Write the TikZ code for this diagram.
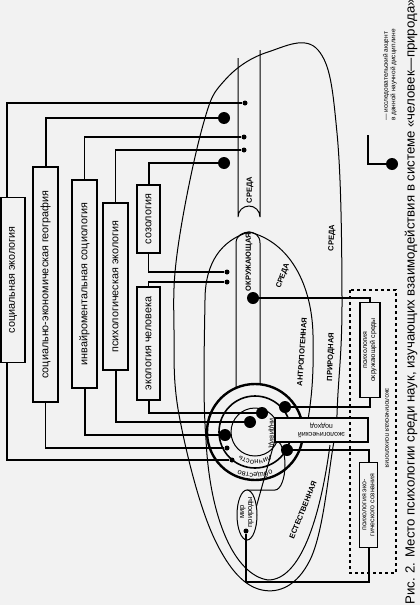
\documentclass[tikz,border=0pt]{standalone}
\usepackage{fontspec}
\setmainfont{Liberation Sans}
\usetikzlibrary{calc,decorations.text}
\begin{document}
\begin{tikzpicture}[x=1pt,y=-1pt,
  box/.style={draw,line width=1.1pt,rotate=90,inner sep=1pt,fill=gray!10,font=\fontsize{10.8}{11}\selectfont},
  thin/.style={line width=1pt},
  thick/.style={line width=2pt},
  mid/.style={line width=1.4pt},
  sdot/.style={circle,fill=black,inner sep=0pt,minimum size=5pt},
  bdot/.style={circle,fill=black,inner sep=0pt,minimum size=12pt},
  lbl/.style={font=\fontsize{7.5}{8}\selectfont\bfseries,inner sep=0pt}]
\useasboundingbox (0,0) rectangle (420,605);
\fill[gray!10] (0,0) rectangle (420,605);
% big ellipse
\draw[thin] plot[smooth cycle,tension=0.65] coordinates {(318,50) (337,133) (342,297) (338,393) (333,447) (310,560) (262,590) (215,540) (180,420) (174,330) (178,247) (203,125) (225,80) (268,52)};
% upper column
\draw[thin] (238,58) -- (238,217) arc[start angle=180,end angle=0,x radius=11,y radius=-11] -- (260,50);
% lower column
\draw[thin] (236,388) -- (236,243) .. controls (236,235) and (244,232) .. (249,232) .. controls (254,232) and (260,235) .. (260,243) -- (260,384.5);
% anthropogenic curve (right) and left curve
\draw[thin] (249,232) .. controls (290,242) and (312,285) .. (313,335) .. controls (314,380) and (311,400) .. (308,420);
\draw[thin] (249,232) .. controls (222,240) and (205,262) .. (205,300) .. controls (204,360) and (203,400) .. (206,440);
% естественная ellipse
\draw[thin] (206,440) .. controls (210,520) and (235,575) .. (268,580) .. controls (300,580) and (320,520) .. (330,445);
% boxes
\node[box,minimum width=165pt,minimum height=24pt] (b1) at (13,280) {социальная экология};
\node[box,minimum width=235pt,minimum height=25pt] (b2) at (45.5,284.5) {социально-экономическая география};
\node[box,minimum width=208pt,minimum height=25pt] (b3) at (84.5,284) {инвайроментальная социология};
\node[box,minimum width=167pt,minimum height=25pt] (b4) at (115.5,286.5) {психологическая экология};
\node[box,minimum width=68pt,minimum height=23pt] (b5) at (148.5,219) {созология};
\node[box,minimum width=113pt,minimum height=23pt] (b6) at (148.5,343.5) {экология человека};
% top dots
\node[sdot] (t1) at (245,103) {};
\node[bdot] (t2) at (224,118) {};
\node[sdot] (t3) at (244,137) {};
\node[sdot] (t4) at (244,150) {};
\node[bdot] (t5) at (224,163) {};
\draw[mid] (7,197.5) -- (7,103) -- (t1);
\draw[thick] (b2.east) -- (45.5,118) -- (t2);
\draw[mid] (b3.east) -- (84.5,137) -- (t3);
\draw[mid] (b4.east) -- (115.5,150) -- (t4);
\draw[thick] (b5.east) -- (148.5,163) -- (t5);
% middle dots
\node[sdot] (m1) at (227,272) {};
\node[sdot] (m2) at (227,282) {};
\draw[mid] (b5.west) -- (148.5,272) -- (m1);
\draw[mid] (b6.east) -- (148.5,282) -- (m2);
\node[bdot] (m3) at (253,298) {};
% circles
\coordinate (C) at (255,432);
\draw[line width=2.4pt] (C) circle[radius=48];
\draw[line width=1.6pt] (C) circle[radius=36];
\draw[thin] (C) circle[radius=24];
\path[decorate,decoration={text along path,text align=center,text={|\fontsize{7.5}{8}\selectfont|общество}}] ($(C)+(40:41)$) arc[start angle=40,end angle=140,radius=41];
\path[decorate,decoration={text along path,text align=center,text={|\fontsize{7.5}{8}\selectfont|личность}}] ($(C)+(30:28)$) arc[start angle=30,end angle=150,radius=28];
\node[rotate=-90,font=\fontsize{7.5}{8}\selectfont,inner sep=0pt] (ind) at (271,433) {индивид};
% bottom dots
\node[sdot] (d1) at (232,460) {};
\node[sdot] (d2) at (227,448) {};
\node[bdot] (d3) at (225,435) {};
\node[bdot] (d4) at (250,422) {};
\node[bdot] (d6) at (262,413) {};
\node[bdot] (r1) at (285,407) {};
\node[bdot] (r2) at (287,450) {};
\draw[mid] (7,362.5) -- (7,460) -- (d1);
\draw[mid] (b2.west) -- (45.5,448) -- (d2);
\draw[thick] (b3.west) -- (84.5,435) -- (d3);
\draw[thick] (b4.west) -- (115.5,422) -- (d4);
\draw[thick] (b6.west) -- (148.5,413) -- (d6);
% мир природы
\draw[thin] (247,490) -- (275,490) arc[start angle=-90,end angle=90,x radius=10,y radius=-25] -- (247,540);
\draw[thin,fill=gray!10] (247,515) ellipse[x radius=10,y radius=25];
\node[rotate=90,align=center,font=\fontsize{7.5}{8}\selectfont,inner sep=0pt] (mir) at (247,512) {мир\\природы};
\node[circle,fill=black,inner sep=0pt,minimum size=5pt] (md) at (246,531) {};
% right boxes
\node[box,minimum width=95pt,minimum height=20pt,align=center,font=\fontsize{7}{8}\selectfont] (p1) at (370,350) {психология\\окружающей среды};
\node[box,minimum width=85pt,minimum height=18pt,align=center,font=\fontsize{7}{8}\selectfont] (p2) at (368.5,505) {психология эко-\\гического сознания};
\draw[thick] (m3) -- (370,298) -- (p1.east);
\draw[thick] (p1.west) -- (370,407) -- (r1);
\draw[thick] (r2) -- (368.5,450) -- (p2.east);
\draw[thick] (p2.west) -- (368.5,582) -- (246,582) -- (md);
\node[draw,line width=1.2pt,rotate=180,minimum width=93pt,minimum height=24pt,align=center,font=\fontsize{7}{8}\selectfont,fill=gray!10] (ep) at (321.5,430) {экологический\\подход};
\draw[dashed,line width=1.2pt] (350,290) rectangle (396,573);
\node[rotate=-90,font=\fontsize{6.5}{7}\selectfont] (epl) at (387,428) {экологическая психология};
% captions
\node[rotate=90,font=\fontsize{13.2}{14}\selectfont,inner sep=0pt,anchor=center] (cap) at (411,302) {Рис. 2. Место психологии среди наук, изучающих взаимодействия в системе «человек—природа»};
\node[rotate=90,align=left,font=\fontsize{6.5}{7.5}\selectfont] (leg) at (390,75) {— исследовательский акцент\\в данной научной дисциплине};
\draw[line width=2pt] (368,135) -- (368,164) -- (392,164);
\node[bdot] at (392,164) {};
% labels
\node[lbl,rotate=90] at (250,190) {СРЕДА};
\node[lbl,rotate=90] at (249,262) {ОКРУЖАЮЩАЯ};
\node[lbl,rotate=70] at (283,276) {СРЕДА};
\node[lbl,rotate=86] at (302,352) {АНТРОПОГЕННАЯ};
\node[lbl,rotate=88] at (332,238) {СРЕДА};
\node[lbl,rotate=88] at (331,357) {ПРИРОДНАЯ};
\node[lbl,rotate=68] at (303,510) {ЕСТЕСТВЕННАЯ};
\end{tikzpicture}
\end{document}
